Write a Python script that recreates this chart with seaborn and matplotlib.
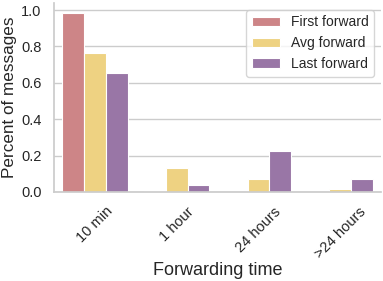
import pandas as pd
import matplotlib
matplotlib.use("Agg")
import matplotlib.pyplot as plt
import seaborn as sns

# data
categories = ["10 min", "1 hour", "24 hours", ">24 hours"]
series = ["First forward", "Avg forward", "Last forward"]
first_fwd = [0.985, 0.004, 0.002, 0.002]
avg_fwd = [0.765, 0.132, 0.071, 0.018]
last_fwd = [0.655, 0.038, 0.224, 0.069]
colors = ["#cd8587", "#eed282", "#9976a6"]

df = pd.DataFrame({
    "time": categories * 3,
    "value": first_fwd + avg_fwd + last_fwd,
    "kind": [s for s in series for _ in categories],
})

sns.set_theme(style="whitegrid")
plt.rcParams["font.family"] = ["Liberation Sans", "DejaVu Sans"]

fig, ax = plt.subplots(figsize=(3.83, 2.81), dpi=100)
sns.barplot(data=df, x="time", y="value", hue="kind", palette=colors,
            saturation=1, edgecolor="white", linewidth=0.8, ax=ax)

ax.set_ylim(0, 1.04)
ax.set_yticks([0.0, 0.2, 0.4, 0.6, 0.8, 1.0])
ax.set_xlabel("Forwarding time", fontsize=13, labelpad=1)
ax.set_ylabel("Percent of messages", fontsize=12.3, labelpad=3)
ax.tick_params(axis="both", labelsize=10.5, pad=3)
plt.setp(ax.get_xticklabels(), rotation=45, ha="center")
sns.despine(ax=ax, top=True, right=True)
for s in ["left", "bottom"]:
    ax.spines[s].set_color("#cccccc")
ax.legend(title=None, fontsize=10, loc="upper right", frameon=True)

fig.subplots_adjust(left=0.141, right=0.995, top=0.99, bottom=0.317)
fig.savefig("out.png", dpi=100)
